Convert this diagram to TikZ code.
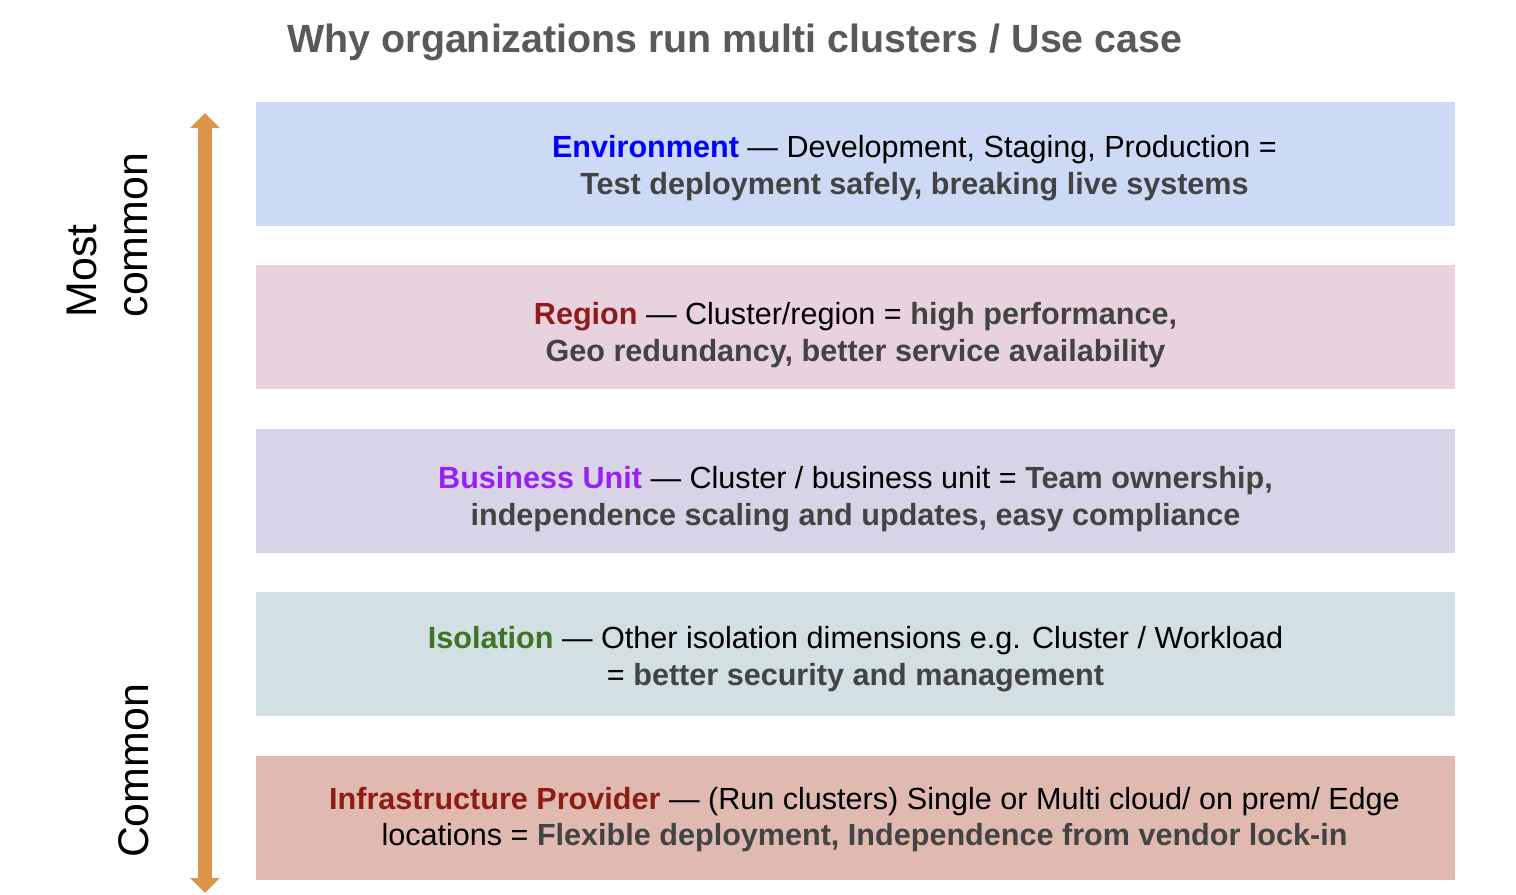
\documentclass[tikz,border=0pt]{standalone}
\usepackage{fontspec}
\setmainfont{Liberation Sans}
\usepackage{xcolor}
\usetikzlibrary{positioning,arrows.meta}
\definecolor{ttl}{HTML}{595959}
\definecolor{bold}{HTML}{434343}
\definecolor{arr}{HTML}{DA954B}
\definecolor{fenv}{HTML}{CCDAF5}
\definecolor{freg}{HTML}{E7D2DD}
\definecolor{fbu}{HTML}{D9D3E8}
\definecolor{fiso}{HTML}{D2E0E3}
\definecolor{finf}{HTML}{E0BAB0}
\definecolor{cenv}{HTML}{0000FF}
\definecolor{creg}{HTML}{8E1C1C}
\definecolor{cbu}{HTML}{9A1FF5}
\definecolor{ciso}{HTML}{3E7424}
\definecolor{cinf}{HTML}{8E1C12}
\newcommand{\hl}[1]{\textbf{\color{bold}#1}}
\tikzset{
  band/.style={fill=#1, draw=none, minimum width=11.99cm, minimum height=1.24cm, inner sep=0pt, outer sep=0pt},
  txt/.style={align=center, font=\fontsize{8.7}{10.5}\selectfont, inner sep=0pt},
  side/.style={rotate=90, align=left, font=\fontsize{12.2}{14.5}\selectfont, inner sep=0pt},
  updown/.style={{Triangle[width=0.29cm,length=0.15cm]}-{Triangle[width=0.29cm,length=0.15cm]}, line width=0.14cm, draw=arr},
}
\begin{document}
\begin{tikzpicture}[node distance=0.394cm]
  \useasboundingbox (0,0) rectangle (15.16,-8.94);
  % --- title
  \node[font=\fontsize{11.2}{13}\selectfont\bfseries, text=ttl] (title) at (7.35,-0.42) {Why organizations run multi clusters / Use case};

  % --- bands
  \node[band=fenv] (env) at (8.555,-1.64) {};
  \node[band=freg, below=of env] (reg) {};
  \node[band=fbu, below=of reg] (bu) {};
  \node[band=fiso, below=of bu] (iso) {};
  \node[band=finf, below=of iso] (inf) {};

  \node[txt, xshift=0.59cm, yshift=-0.04cm] (envt) at (env) {\textbf{\color{cenv}Environment} --- Development, Staging, Production =\\
        \hl{Test deployment safely, breaking live systems}};
  \node[txt, yshift=-0.08cm] (regt) at (reg) {\textbf{\color{creg}Region} --- Cluster/region = \hl{high performance,}\\
        \hl{Geo redundancy, better service availability}};
  \node[txt, yshift=-0.08cm] (but) at (bu) {\textbf{\color{cbu}Business Unit} --- Cluster / business unit = \hl{Team ownership,}\\
        \hl{independence scaling and updates, easy compliance}};
  \node[txt, yshift=-0.05cm] (isot) at (iso) {\textbf{\color{ciso}Isolation} --- Other isolation dimensions e.g. Cluster / Workload\\
        = \hl{better security and management}};
  \node[txt, xshift=0.09cm, yshift=-0.02cm] (inft) at (inf) {\textbf{\color{cinf}Infrastructure Provider} --- (Run clusters) Single or Multi cloud/ on prem/ Edge\\
        locations = \hl{Flexible deployment, Independence from vendor lock-in}};

  % --- side scale
  \coordinate (top) at (2.05,-1.13);
  \coordinate (bot) at (2.05,-8.93);
  \draw[updown] (top) -- (bot);
  \node[side, anchor=north west] (most) at (0.66,-3.18) {Most\\common};
  \node[side] (common) at (1.34,-7.71) {Common};
\end{tikzpicture}
\end{document}
